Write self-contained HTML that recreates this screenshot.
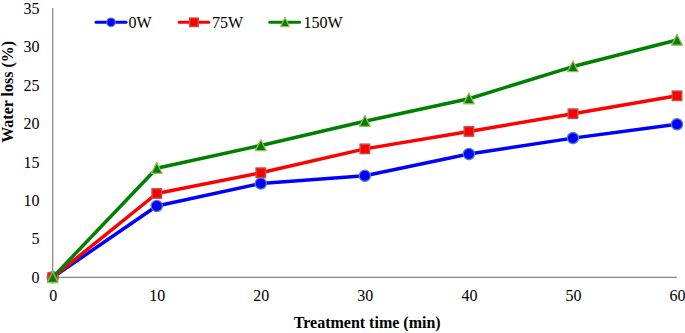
<!DOCTYPE html><html><head><meta charset="utf-8"><style>html,body{margin:0;padding:0;background:#fff;}svg{display:block;}text{font-family:"Liberation Serif",serif;}</style></head><body>
<svg width="685" height="333" viewBox="0 0 685 333">
<rect width="685" height="333" fill="#fff"/>
<line x1="52.7" y1="8.1" x2="52.7" y2="277.35" stroke="#868686" stroke-width="1.25"/>
<line x1="52.7" y1="277.35" x2="677.0" y2="277.35" stroke="#868686" stroke-width="1.25"/>
<text x="39.5" y="282.9" font-size="16" text-anchor="end">0</text>
<text x="39.5" y="244.4" font-size="16" text-anchor="end">5</text>
<text x="39.5" y="205.9" font-size="16" text-anchor="end">10</text>
<text x="39.5" y="167.5" font-size="16" text-anchor="end">15</text>
<text x="39.5" y="129.0" font-size="16" text-anchor="end">20</text>
<text x="39.5" y="90.5" font-size="16" text-anchor="end">25</text>
<text x="39.5" y="52.1" font-size="16" text-anchor="end">30</text>
<text x="39.5" y="13.6" font-size="16" text-anchor="end">35</text>
<text x="53.2" y="300.5" font-size="16" text-anchor="middle">0</text>
<text x="157.2" y="300.5" font-size="16" text-anchor="middle">10</text>
<text x="261.3" y="300.5" font-size="16" text-anchor="middle">20</text>
<text x="365.3" y="300.5" font-size="16" text-anchor="middle">30</text>
<text x="469.4" y="300.5" font-size="16" text-anchor="middle">40</text>
<text x="573.4" y="300.5" font-size="16" text-anchor="middle">50</text>
<text x="677.5" y="300.5" font-size="16" text-anchor="middle">60</text>
<text x="367.2" y="328.3" font-size="16" font-weight="bold" text-anchor="middle">Treatment time (min)</text>
<text transform="translate(13.1,91.85) rotate(-90)" font-size="16" font-weight="bold" text-anchor="middle">Water loss (%)</text>
<polyline points="52.70,277.35 156.75,206.04 260.80,183.50 364.85,175.80 468.90,154.03 572.95,138.11 677.00,124.26" fill="none" stroke="#0000FF" stroke-width="3.5" stroke-linejoin="round" stroke-linecap="round"/>
<circle cx="52.70" cy="277.35" r="5.6" fill="#0000FF" stroke="#4F81BD" stroke-width="1.3"/>
<circle cx="156.75" cy="206.04" r="5.6" fill="#0000FF" stroke="#4F81BD" stroke-width="1.3"/>
<circle cx="260.80" cy="183.50" r="5.6" fill="#0000FF" stroke="#4F81BD" stroke-width="1.3"/>
<circle cx="364.85" cy="175.80" r="5.6" fill="#0000FF" stroke="#4F81BD" stroke-width="1.3"/>
<circle cx="468.90" cy="154.03" r="5.6" fill="#0000FF" stroke="#4F81BD" stroke-width="1.3"/>
<circle cx="572.95" cy="138.11" r="5.6" fill="#0000FF" stroke="#4F81BD" stroke-width="1.3"/>
<circle cx="677.00" cy="124.26" r="5.6" fill="#0000FF" stroke="#4F81BD" stroke-width="1.3"/>
<polyline points="52.70,277.35 156.75,193.50 260.80,172.73 364.85,148.88 468.90,131.42 572.95,113.72 677.00,95.80" fill="none" stroke="#FF0000" stroke-width="3.5" stroke-linejoin="round" stroke-linecap="round"/>
<rect x="47.95" y="272.60" width="9.5" height="9.5" fill="#FF0000" stroke="#C0504D" stroke-width="1.4"/>
<rect x="152.00" y="188.75" width="9.5" height="9.5" fill="#FF0000" stroke="#C0504D" stroke-width="1.4"/>
<rect x="256.05" y="167.98" width="9.5" height="9.5" fill="#FF0000" stroke="#C0504D" stroke-width="1.4"/>
<rect x="360.10" y="144.13" width="9.5" height="9.5" fill="#FF0000" stroke="#C0504D" stroke-width="1.4"/>
<rect x="464.15" y="126.67" width="9.5" height="9.5" fill="#FF0000" stroke="#C0504D" stroke-width="1.4"/>
<rect x="568.20" y="108.97" width="9.5" height="9.5" fill="#FF0000" stroke="#C0504D" stroke-width="1.4"/>
<rect x="672.25" y="91.05" width="9.5" height="9.5" fill="#FF0000" stroke="#C0504D" stroke-width="1.4"/>
<polyline points="52.70,277.35 156.75,168.27 260.80,145.42 364.85,121.19 468.90,98.72 572.95,66.57 677.00,40.03" fill="none" stroke="#008000" stroke-width="3.5" stroke-linejoin="round" stroke-linecap="round"/>
<polygon points="52.70,271.70 58.10,282.50 47.30,282.50" fill="#008000" stroke="#9BBB59" stroke-width="1.3" stroke-linejoin="round"/>
<polygon points="156.75,162.62 162.15,173.42 151.35,173.42" fill="#008000" stroke="#9BBB59" stroke-width="1.3" stroke-linejoin="round"/>
<polygon points="260.80,139.77 266.20,150.57 255.40,150.57" fill="#008000" stroke="#9BBB59" stroke-width="1.3" stroke-linejoin="round"/>
<polygon points="364.85,115.53 370.25,126.34 359.45,126.34" fill="#008000" stroke="#9BBB59" stroke-width="1.3" stroke-linejoin="round"/>
<polygon points="468.90,93.07 474.30,103.87 463.50,103.87" fill="#008000" stroke="#9BBB59" stroke-width="1.3" stroke-linejoin="round"/>
<polygon points="572.95,60.92 578.35,71.72 567.55,71.72" fill="#008000" stroke="#9BBB59" stroke-width="1.3" stroke-linejoin="round"/>
<polygon points="677.00,34.38 682.40,45.18 671.60,45.18" fill="#008000" stroke="#9BBB59" stroke-width="1.3" stroke-linejoin="round"/>
<line x1="96" y1="22.3" x2="126" y2="22.3" stroke="#0000FF" stroke-width="3" stroke-linecap="round"/>
<circle cx="111.00" cy="22.30" r="4.3" fill="#0000FF" stroke="#4F81BD" stroke-width="1.2"/>
<text x="128.6" y="27.9" font-size="16">0W</text>
<line x1="179.2" y1="22.3" x2="208.8" y2="22.3" stroke="#FF0000" stroke-width="3" stroke-linecap="round"/>
<rect x="189.70" y="18.00" width="8.6" height="8.6" fill="#FF0000" stroke="#C0504D" stroke-width="1.3"/>
<text x="212" y="27.9" font-size="16">75W</text>
<line x1="269.8" y1="22.3" x2="299.6" y2="22.3" stroke="#008000" stroke-width="3" stroke-linecap="round"/>
<polygon points="285.00,17.45 289.40,26.65 280.60,26.65" fill="#008000" stroke="#9BBB59" stroke-width="1.2" stroke-linejoin="round"/>
<text x="303.5" y="27.9" font-size="16">150W</text>
</svg></body></html>
